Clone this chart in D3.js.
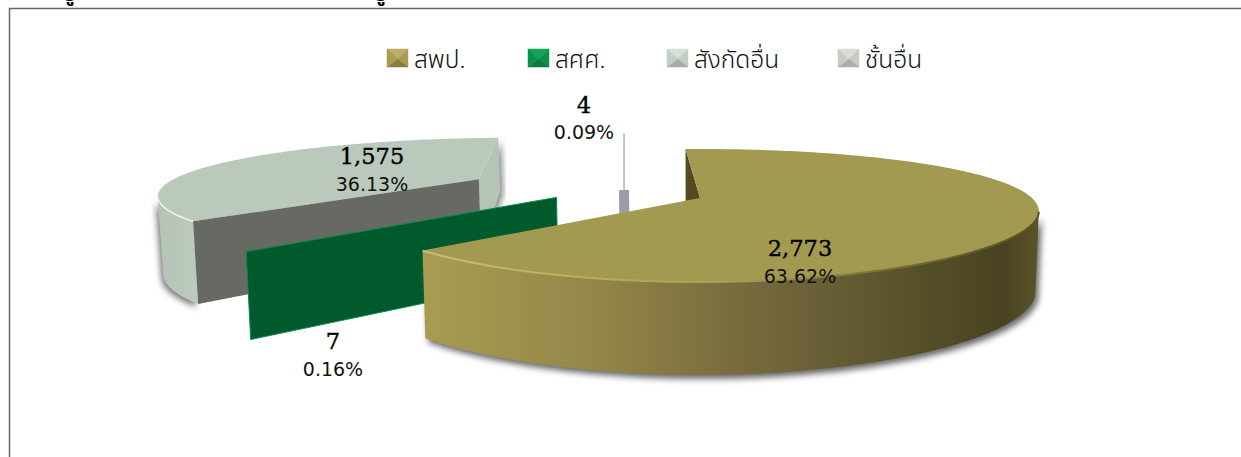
<!DOCTYPE html>
<html><head><meta charset="utf-8">
<script src="https://cdn.jsdelivr.net/npm/d3@7/dist/d3.min.js"></script>
<style>html,body{margin:0;padding:0;background:#fff;overflow:hidden}svg{display:block}</style>
</head><body><svg id="c" width="1241" height="457"></svg>
<script>
const categories = ["สพป.", "สศศ.", "สังกัดอื่น", "ชั้นอื่น"];
const seriesValues = [2773, 7, 1575, 4];
const valueLabels = ["2,773", "7", "1,575", "4"];
const percentLabels = ["63.62%", "0.16%", "36.13%", "0.09%"];

// projection + layout
const cx = 700, cy = 198, A = 332, B = 61.9, K = 0.263, KX = 0.2;
const explode = [[0, 0], [-0.433, 0.01], [-0.71, 0.33], [-0.235, 0.135]];
const radii = [1, 1.03, 0.98, 1];
const labelPos = [[800, 256, 283], [333, 349, 376], [372, 164, 191], [584, 113, 139]];
const legendX = [387, 528, 667, 838];
const swatchLight = ["#bcae66", "#12a556", "#d6dfd6", "#dcdcd6"];
const swatchDark = ["#8a7c40", "#0a7a40", "#a6aca6", "#acaca8"];
const swatchMid = ["#a99c50", "#0c9149", "#c2cdc3", "#c9cac5"];
const rad = Math.PI / 180;

const svg = d3.select("#c");
const defs = svg.append("defs");
defs.append("filter").attr("id", "blur").attr("x", "-10%").attr("y", "-20%").attr("width", "120%").attr("height", "140%")
  .append("feGaussianBlur").attr("stdDeviation", 3);

const grad = (id, x1, x2, stops) => {
  const g = defs.append("linearGradient").attr("id", id).attr("gradientUnits", "userSpaceOnUse")
    .attr("x1", x1).attr("x2", x2).attr("y1", 0).attr("y2", 0);
  stops.forEach(s => g.append("stop").attr("offset", s[0]).attr("stop-color", s[1]));
};
grad("mainWall", 424, 1040, [[0, "#a89c52"], [.28, "#938649"], [.45, "#7e7240"], [.62, "#6c6138"], [.8, "#565029"], [.94, "#484222"], [1, "#5c5528"]]);
grad("mainRim", 424, 1040, [[0, "#c9bd72"], [.5, "#a89d55"], [.75, "#7a7038"], [1, "#5a5326"]]);
grad("grayWall", 160, 195, [[0, "#b4c4b6"], [1, "#bccabe"]]);

const pie = d3.pie().sort(null).startAngle(-3 * rad).endAngle(357 * rad);
const arcs = pie(seriesValues);

function depth(Y) { return 78 / (1 + (Y > 0 ? 0.35 : 0.16) * Y); }
function project(i, t, r, bottom) {
  const R = r * radii[i];
  const X = explode[i][0] + R * Math.sin(t), Y = explode[i][1] + R * Math.cos(t);
  let sx = A * X / (1 + KX * Y), sy = cy - B * Y / (1 + K * Y);
  if (bottom) { sx *= 0.99; sy += depth(Y); }
  return [cx + sx, sy];
}
const line = d3.line();
const angles = (a, b) => { const n = Math.max(2, Math.ceil(Math.abs(b - a) / rad)); return d3.range(n + 1).map(j => a + (b - a) * j / n); };
const rim = (i, a, b, bottom) => angles(a, b).map(t => project(i, t, 1, bottom));
const topPath = i => line([project(i, 0, 0), ...rim(i, arcs[i].startAngle, arcs[i].endAngle)]) + "Z";
const sidePath = (i, a, b) => line([...rim(i, a, b), ...rim(i, b, a, true)]) + "Z";
const radial = (i, t) => line([project(i, t, 0), project(i, t, 1), project(i, t, 1, true), project(i, t, 0, true)]) + "Z";

// frame
svg.append("path").attr("d", "M9.5,457V8.5H1241").attr("fill", "none").attr("stroke", "#666").attr("stroke-width", 1.5);
// clipped caption fragments above the frame
svg.selectAll("text.cap").data([70, 381]).join("text").attr("class", "cap")
  .attr("x", d => d).attr("y", 1).attr("text-anchor", "middle")
  .attr("font-family", "'Noto Sans Thai','Noto Sans',sans-serif").attr("font-size", 20).attr("font-weight", 700).text("รู");

// gray slice
const g = svg.append("g");
const [gs, ge] = [arcs[2].startAngle, arcs[2].endAngle];
const gSil = 251 * rad;
g.append("path").attr("d", sidePath(2, gs, gSil)).attr("transform", "translate(-2,3)").attr("fill", "#777").attr("filter", "url(#blur)");
g.append("path").attr("d", radial(2, ge)).attr("transform", "translate(3,3)").attr("fill", "#888").attr("filter", "url(#blur)");
g.append("path").attr("d", radial(2, ge)).attr("fill", "#b6c3b7");
g.append("path").attr("d", sidePath(2, gs, gSil)).attr("fill", "url(#grayWall)");
g.append("path").attr("d", topPath(2)).attr("fill", "#bac9bb");
g.append("path").attr("d", line(rim(2, gs, gSil))).attr("fill", "none").attr("stroke", "#f0f4ee").attr("stroke-width", 1.5);
g.append("path").attr("d", radial(2, gs)).attr("fill", "#666a63");

// thin slice: seen edge-on, so its far edge runs straight up from the apex
const th = svg.append("g"), ta = arcs[3].startAngle;
const thApex = project(3, ta, 0), thFar = project(3, ta, 1.3);
th.append("path").attr("d", line([thApex, project(3, ta, 0, true)])).attr("stroke", "#9a9ea4").attr("stroke-width", 10).attr("fill", "none");
th.append("path").attr("d", line([thApex, [thApex[0], thFar[1]]])).attr("stroke", "#a8adb0").attr("stroke-width", 1.4).attr("fill", "none");

// green slice
const gr = svg.append("g"), ga = arcs[1].startAngle;
gr.append("path").attr("d", radial(1, ga)).attr("fill", "#005a2b").attr("stroke", "#0c8a50").attr("stroke-width", 1);

// main slice
const m = svg.append("g"), [ms, me] = [arcs[0].startAngle, arcs[0].endAngle];
m.append("path").attr("d", sidePath(0, 102 * rad, me)).attr("transform", "translate(3,4)").attr("fill", "#666").attr("filter", "url(#blur)");
m.append("path").attr("d", radial(0, ms)).attr("fill", "#534a22");
m.append("path").attr("d", sidePath(0, 102 * rad, me)).attr("fill", "url(#mainWall)");
m.append("path").attr("d", topPath(0)).attr("fill", "#a39a52");
m.append("path").attr("d", line(rim(0, 102 * rad, me))).attr("fill", "none").attr("stroke", "url(#mainRim)").attr("stroke-width", 2);

// data labels
const lab = svg.append("g").selectAll("g").data(seriesValues).join("g");
lab.append("text").attr("x", (d, i) => labelPos[i][0]).attr("y", (d, i) => labelPos[i][1]).attr("text-anchor", "middle")
  .attr("font-family", "'DejaVu Serif',serif").attr("font-size", 22.5).attr("fill", "#000").attr("stroke", "#000").attr("stroke-width", 0.4).text((d, i) => valueLabels[i]);
lab.append("text").attr("x", (d, i) => labelPos[i][0]).attr("y", (d, i) => labelPos[i][2]).attr("text-anchor", "middle")
  .attr("font-family", "'DejaVu Sans',sans-serif").attr("font-size", 19).attr("fill", "#111").text((d, i) => percentLabels[i]);

// legend
const leg = svg.append("g").selectAll("g").data(categories).join("g").attr("transform", (d, i) => `translate(${legendX[i]},49)`);
const sw = 21, sh = 18, mid = [sw / 2, sh * 0.55];
const facets = [
  [[0, 0], [sw, 0], mid, swatchLight],
  [[sw, 0], [sw, sh], mid, swatchMid],
  [[0, sh], [sw, sh], mid, swatchDark],
  [[0, 0], [0, sh], mid, swatchMid]
];
leg.each(function (d, i) {
  const s = d3.select(this);
  facets.forEach(f => s.append("path").attr("d", line(f.slice(0, 3)) + "Z").attr("fill", f[3][i]).attr("stroke", f[3][i]).attr("stroke-width", 0.5));
});
leg.append("text").attr("x", 27).attr("y", 19).attr("font-family", "'Noto Sans Thai','Noto Sans',sans-serif").attr("font-size", 24.5).attr("font-weight", 300).attr("fill", "#111").text(d => d);
</script></body></html>
